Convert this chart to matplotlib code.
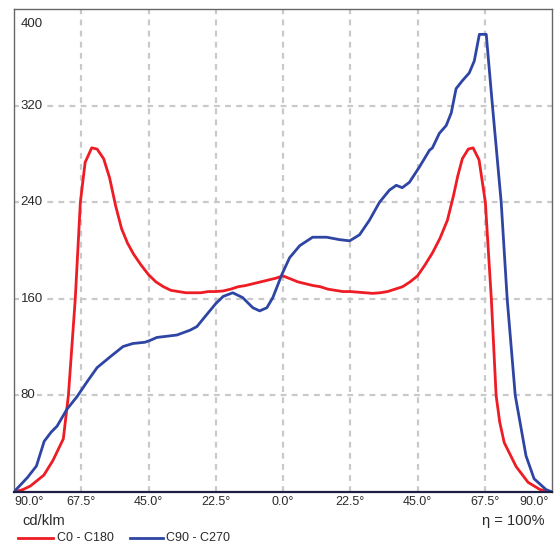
import matplotlib
matplotlib.use("Agg")
import matplotlib.pyplot as plt
from matplotlib.lines import Line2D

plt.rcParams['font.family'] = ['Liberation Sans', 'DejaVu Sans']

# ---------------- data ----------------
series_names = ["C0 - C180", "C90 - C270"]

red_angles = [-90, -87, -84.5, -80, -77, -73.5, -71.8, -69.5, -67.8, -66.2, -64, -62.2,
              -60, -58, -56, -54, -52, -50, -47.5, -45, -42.5, -40, -37.5, -35, -32.5,
              -30, -27.5, -25, -22.5, -20, -17.5, -15, -12.5, -10, -7.5, -5, -2.5, 0,
              2.5, 5, 7.5, 10, 12.5, 15, 17.5, 20, 22.5, 25, 27.5, 30, 32.5, 35, 37.5,
              40, 42.5, 45, 47.5, 50, 52.5, 55, 57, 58.5, 60, 62, 63.6, 65.6, 67.7,
              69.7, 71.3, 72.5, 74, 78, 82, 86, 90]
red_values = [0, 2, 5, 14, 26, 44, 80, 160, 240, 273, 285, 284,
              276, 260, 237, 218, 206, 197, 188, 180, 174, 170, 167, 166, 165,
              165, 165, 166, 166, 166.5, 168, 170, 171, 172.5, 174, 175.5, 177, 179,
              176.5, 174, 172.5, 171, 170, 168, 167, 166, 166, 165.5, 165, 164.5, 165, 166, 168,
              170, 174, 179, 188, 198, 210, 225, 245, 262, 276, 284, 285, 275, 240,
              160, 80, 58, 41, 21, 8, 2, 0]

blue_angles = [-90, -89.3, -85.5, -82.5, -79.9, -77.6, -75.6, -72.3, -68.9, -65.5, -62.2,
               -57.8, -53.5, -50.2, -46.2, -44.5, -42.2, -35.5, -31.1, -28.8, -25.5,
               -22.5, -20, -16.8, -13.5, -10.1, -7.8, -5.4, -3.4, -0.4, 2.2, 5.6, 9.9,
               14.6, 18.9, 22.3, 25.6, 28.9, 32.3, 35.6, 37.9, 39.9, 42.3, 45.6, 49, 50,
               52.3, 54.6, 56.3, 57.9, 60, 62.3, 64, 65.7, 68, 70, 73, 75, 77.7, 81.3,
               84, 88, 90]
blue_values = [0, 2, 12, 21.5, 42, 49.5, 54.5, 68.5, 79, 91.5, 103,
               112, 120.5, 123, 124, 125.5, 128, 130, 134, 137, 147,
               156, 162, 165, 161, 152.6, 150, 152.6, 161, 180, 194, 204, 211,
               211, 209, 208, 213, 225, 240, 250, 254, 252, 256.5, 269, 283, 285,
               297, 303.5, 314, 334, 340.6, 347, 357, 379, 379, 322, 240, 160, 80, 30,
               11, 2, 0]

x_ticks = [-90, -67.5, -45, -22.5, 0, 22.5, 45, 67.5, 90]
x_tick_labels = ["90.0°", "67.5°", "45.0°", "22.5°", "0.0°", "22.5°", "45.0°", "67.5°", "90.0°"]
y_ticks = [80, 160, 240, 320, 400]
y_tick_labels = ["80", "160", "240", "320", "400"]
unit_label = "cd/klm"
efficiency_label = "η = 100%"

red_color = "#ee1c24"
blue_color = "#2e45a4"
grid_color = "#c9c9c9"
text_color = "#2a2a2a"

# ---------------- figure ----------------
W, H = 559, 544
fig = plt.figure(figsize=(W / 100, H / 100), dpi=100)
ax = fig.add_axes([14 / W, 1 - 492 / H, (552 - 14) / W, (492 - 9) / H])
ax.set_xlim(-90, 90)
ax.set_ylim(0, 400)

# grid
for xt in x_ticks[1:-1]:
    ax.axvline(xt, color=grid_color, lw=1.6, dashes=(2.6, 2.4), zorder=1)
for yt in y_ticks[:-1]:
    ax.axhline(yt, color=grid_color, lw=1.6, dashes=(2.6, 2.4), zorder=1)

# curves
ax.plot(red_angles, red_values, color=red_color, lw=2.0, zorder=3, solid_joinstyle='round')
ax.plot(blue_angles, blue_values, color=blue_color, lw=2.0, zorder=4, solid_joinstyle='round')

# spines
for s in ["left", "top", "right"]:
    ax.spines[s].set_color("#666666")
    ax.spines[s].set_linewidth(1.0)
ax.spines["bottom"].set_color("#1c1f45")
ax.spines["bottom"].set_linewidth(1.6)
ax.spines["bottom"].set_zorder(5)

ax.set_xticks([])
ax.set_yticks([])

# y tick labels inside the axes
for yt, lab in zip(y_ticks, y_tick_labels):
    ypos = yt if yt < 400 else 387.5
    ax.text(-87.8, ypos, lab, ha="left", va="center", fontsize=9.5, color=text_color,
            zorder=6, bbox=dict(facecolor="white", edgecolor="none", pad=1.2))

# x tick labels below
for xt, lab in zip(x_ticks, x_tick_labels):
    xpos = xt
    if xt == -90:
        xpos = -85.0
    elif xt == 90:
        xpos = 84.0
    ax.text(xpos, -3.0, lab, ha="center", va="top", fontsize=9, color=text_color,
            transform=ax.transData, clip_on=False)

# unit and efficiency
fig.text(22 / W, 1 - 521 / H, unit_label, ha="left", va="center", fontsize=10.5, color=text_color)
fig.text(544 / W, 1 - 521 / H, efficiency_label, ha="right", va="center", fontsize=10.5, color=text_color)

# legend row
ly = 1 - 538 / H
fig.add_artist(Line2D([18 / W, 53 / W], [ly, ly], color=red_color, lw=2.0, transform=fig.transFigure))
fig.text(57 / W, ly, series_names[0], ha="left", va="center", fontsize=9, color=text_color)
fig.add_artist(Line2D([130 / W, 163 / W], [ly, ly], color=blue_color, lw=2.0, transform=fig.transFigure))
fig.text(166 / W, ly, series_names[1], ha="left", va="center", fontsize=9, color=text_color)

fig.savefig("out.png", dpi=100, facecolor="white")
